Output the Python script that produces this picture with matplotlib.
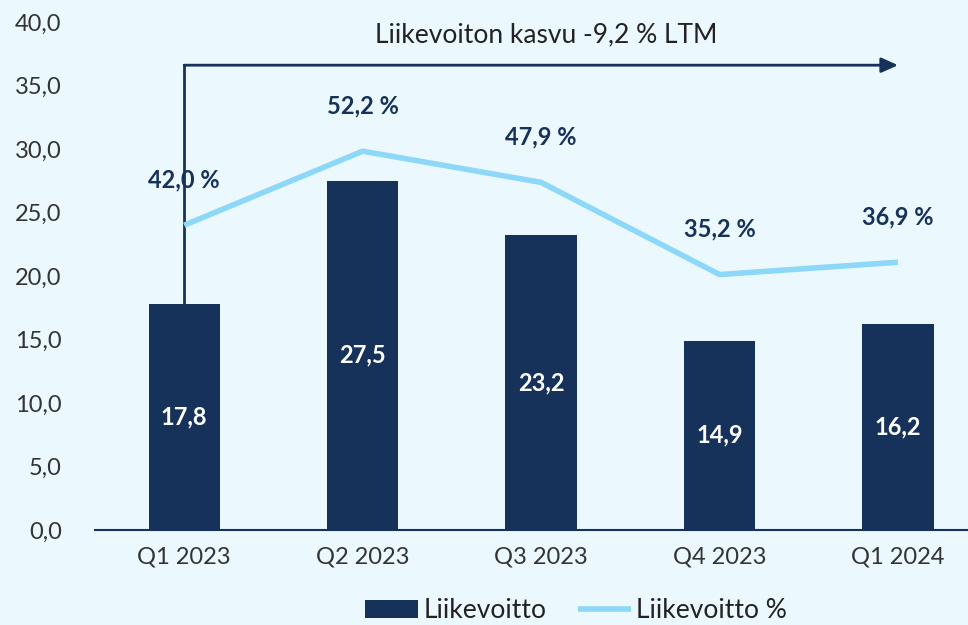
import matplotlib.pyplot as plt
import numpy as np

plt.rcParams['font.family'] = ['Lato', 'DejaVu Sans']

# data
quarters = ['Q1 2023', 'Q2 2023', 'Q3 2023', 'Q4 2023', 'Q1 2024']
liikevoitto = [17.8, 27.5, 23.2, 14.9, 16.2]
liikevoitto_pct = [42.0, 52.2, 47.9, 35.2, 36.9]
arrow_text = 'Liikevoiton kasvu -9,2 % LTM'

navy = '#17325A'
light = '#8DD8F8'
bg = '#EBF8FE'

fig = plt.figure(figsize=(9.68, 6.25), dpi=100, facecolor=bg)
ax = fig.add_axes([95 / 968, 95 / 625, 1 - 95 / 968, (530 - 22) / 625])
ax.set_facecolor(bg)
x = np.arange(len(quarters))

bars = ax.bar(x, liikevoitto, width=0.40, color=navy, label='Liikevoitto', zorder=2)
for xi, v in zip(x, liikevoitto):
    ax.text(xi, v / 2, f'{v:.1f}'.replace('.', ','), ha='center', va='center',
            color='white', fontsize=17, fontweight='bold', zorder=3)

ax.set_ylim(0, 40)
ax.set_xlim(-0.5, (968 - 184) / 178.5)
ax.set_yticks(np.arange(0, 41, 5))
ax.set_yticklabels([f'{t:.1f}'.replace('.', ',') for t in np.arange(0, 41, 5)])
ax.set_xticks(x)
ax.set_xticklabels(quarters)
ax.tick_params(axis='both', length=0, labelsize=17, colors='#333333')
ax.tick_params(axis='x', pad=12)
ax.tick_params(axis='y', pad=24)
for s in ['top', 'right', 'left']:
    ax.spines[s].set_visible(False)
ax.spines['bottom'].set_color(navy)
ax.spines['bottom'].set_linewidth(1.5)

# secondary axis for the percentage line (hidden)
ax2 = ax.twinx()
ax2.set_ylim(0, 70)
ax2.axis('off')
line, = ax2.plot(x, liikevoitto_pct, color=light, linewidth=4, label='Liikevoitto %',
                 solid_capstyle='butt', zorder=3)
for xi, v in zip(x, liikevoitto_pct):
    ax2.annotate(f'{v:.1f} %'.replace('.', ','), (xi, v), xytext=(0, 32.5),
                 textcoords='offset points', ha='center', va='center',
                 color=navy, fontsize=17, fontweight='bold')

# growth arrow
top = 36.6
ax.plot([0, 0], [liikevoitto[0], top], color=navy, linewidth=2, zorder=1)
ax.annotate('', xy=(4.0, top), xytext=(0, top),
            arrowprops=dict(arrowstyle='-|>,head_length=1.0,head_width=0.45',
                            color=navy, linewidth=2, shrinkA=0, shrinkB=0))
ax.text(2.03, 39.0, arrow_text, ha='center', va='center', fontsize=19, color='#222222')

fig.legend(handles=[bars, line], loc='lower center', bbox_to_anchor=(0.595, -0.035),
           ncol=2, frameon=False, fontsize=19, handlelength=2.0, columnspacing=1.2,
           handletextpad=0.2, labelcolor='#222222')

fig.savefig('out.png', dpi=100, facecolor=bg)
